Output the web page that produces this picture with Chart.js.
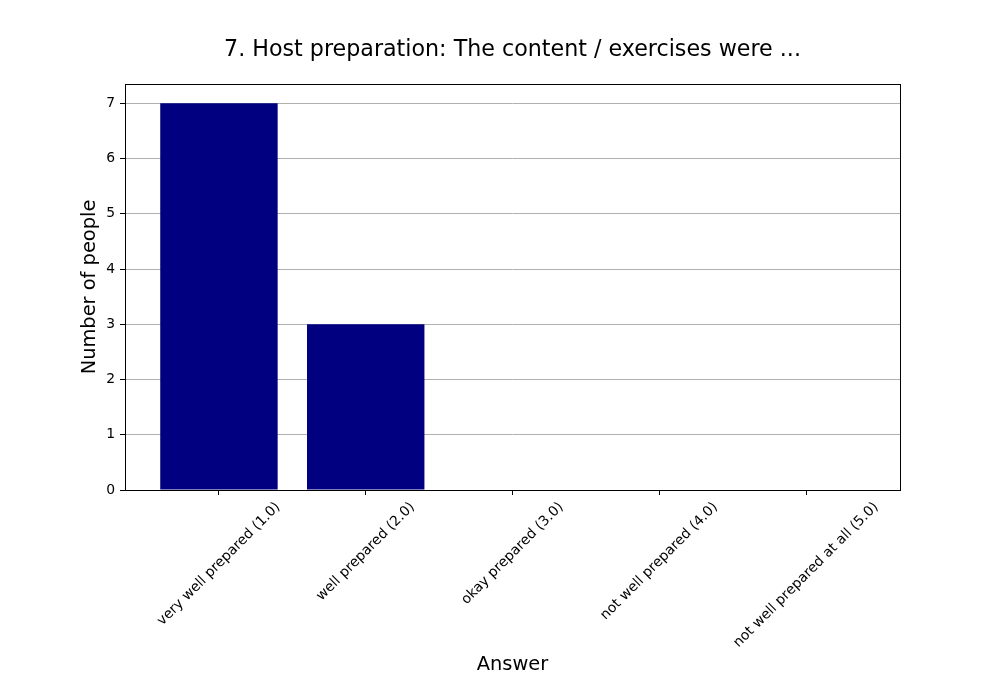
<!DOCTYPE html>
<html>
<head>
<meta charset="utf-8">
<script src="https://cdn.jsdelivr.net/npm/chart.js@4"></script>
<style>
html,body{margin:0;padding:0;background:#fff;}
#wrap{width:1000px;height:700px;}
</style>
</head>
<body>
<div id="wrap"><canvas id="c" width="1000" height="700"></canvas></div>
<script>
const categories = ["very well prepared (1.0)", "well prepared (2.0)", "okay prepared (3.0)", "not well prepared (4.0)", "not well prepared at all (5.0)"];
const counts = [7, 3, 0, 0, 0];
const yTicks = [0, 1, 2, 3, 4, 5, 6, 7];
const chartTitle = "7. Host preparation: The content / exercises were ...";
const xTitle = "Answer";
const yTitle = "Number of people";

const FONT = "'DejaVu Sans', sans-serif";

const framePlugin = {
  id: 'frame',
  afterDatasetsDraw(chart) {
    const {ctx, chartArea: a} = chart;
    ctx.save();
    ctx.strokeStyle = '#000';
    ctx.lineWidth = 1;
    ctx.strokeRect(Math.round(a.left) + 0.5, Math.round(a.top) + 0.5, Math.round(a.right - a.left), Math.round(a.bottom - a.top));
    ctx.restore();
  }
};

const textPlugin = {
  id: 'texts',
  afterDraw(chart) {
    const {ctx, chartArea: a} = chart;
    const xs = chart.scales.x;
    ctx.save();
    // title centred over the plot area
    ctx.font = "22.2px " + FONT;
    ctx.fillStyle = '#000';
    ctx.textAlign = 'center';
    ctx.textBaseline = 'alphabetic';
    ctx.fillText(chartTitle, (a.left + a.right) / 2, 56);
    // rotated category labels, centred under each tick
    ctx.font = "13.9px " + FONT;
    ctx.textBaseline = 'middle';
    const h = 13.9;
    const top = a.bottom + 10;
    categories.forEach((lab, i) => {
      const px = xs.getPixelForValue(i);
      const L = ctx.measureText(lab).width;
      const W = (L + h) / Math.SQRT2;
      ctx.save();
      ctx.translate(px, top + W / 2);
      ctx.rotate(-Math.PI / 4);
      ctx.fillText(lab, 0, 0);
      ctx.restore();
    });
    ctx.restore();
  }
};

new Chart(document.getElementById('c'), {
  type: 'bar',
  data: {
    datasets: [{
      data: counts.map((v, i) => ({x: i, y: v})),
      backgroundColor: '#000080',
      borderWidth: 0,
      barPercentage: 0.8,
      categoryPercentage: 1.0
    }]
  },
  options: {
    responsive: false,
    animation: false,
    devicePixelRatio: 1,
    layout: {padding: {left: 0, right: 100, top: 84, bottom: 0}},
    plugins: {
      legend: {display: false},
      tooltip: {enabled: false},
      title: {display: false}
    },
    scales: {
      x: {
        type: 'linear',
        offset: false,
        min: -0.64,
        max: 4.64,
        afterBuildTicks(s) { s.ticks = categories.map((c, i) => ({value: i})); },
        afterFit(s) { s.height = 210; },
        ticks: {display: false},
        grid: {display: true, offset: false, drawOnChartArea: false, drawTicks: true, tickLength: 5, tickColor: '#000', color: '#000'},
        border: {display: false},
        title: {
          display: true, text: xTitle, color: '#000',
          font: {family: FONT, size: 19.4, lineHeight: 1.2},
          padding: {top: 0, bottom: 23}
        }
      },
      y: {
        min: 0,
        max: 7.35,
        afterBuildTicks(s) { s.ticks = yTicks.map(v => ({value: v})); },
        afterFit(s) { s.width = 125; },
        ticks: {color: '#000', font: {family: FONT, size: 13.9}, padding: 5},
        grid: {color: '#b0b0b0', lineWidth: 1, tickColor: '#000', tickLength: 5, drawTicks: true},
        border: {display: false},
        title: {
          display: true, text: yTitle, color: '#000',
          font: {family: FONT, size: 19.4, lineHeight: 1.2},
          padding: {top: 78, bottom: 0}
        }
      }
    }
  },
  plugins: [framePlugin, textPlugin]
});
</script>
</body>
</html>
